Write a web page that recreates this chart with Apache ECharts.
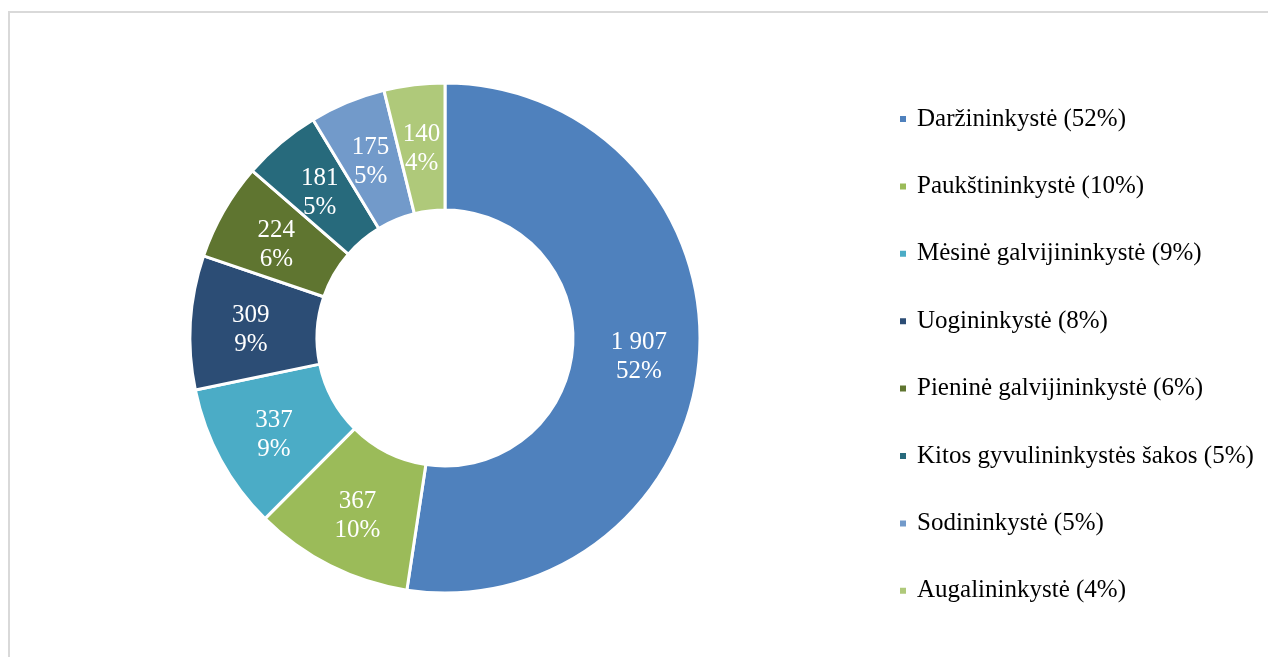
<!DOCTYPE html>
<html>
<head>
<meta charset="utf-8">
<script src="https://cdn.jsdelivr.net/npm/echarts@6/dist/echarts.min.js"></script>
<style>
  html, body { margin: 0; padding: 0; background: #fff; }
  #chart { width: 1268px; height: 657px; }
</style>
</head>
<body>
<div id="chart"></div>
<script>
const categories = [
  'Daržininkystė (52%)',
  'Paukštininkystė (10%)',
  'Mėsinė galvijininkystė (9%)',
  'Uogininkystė (8%)',
  'Pieninė galvijininkystė (6%)',
  'Kitos gyvulininkystės šakos (5%)',
  'Sodininkystė (5%)',
  'Augalininkystė (4%)'
];
const values = [1907, 367, 337, 309, 224, 181, 175, 140];
const pctLabels = ['52%', '10%', '9%', '9%', '6%', '5%', '5%', '4%'];
const colors = ['#4F81BD', '#9BBB59', '#4BACC6', '#2C4D75', '#5F7530', '#276A7C', '#729ACA', '#AFC97A'];

const FONT = '"Liberation Serif", "DejaVu Serif", serif';

function fmt(v) {
  return String(v).replace(/\B(?=(\d{3})+(?!\d))/g, ' ');
}

const chart = echarts.init(document.getElementById('chart'), null, { renderer: 'canvas' });
chart.setOption({
  animation: false,
  backgroundColor: '#ffffff',
  color: colors,
  graphic: [{
    type: 'rect',
    shape: { x: 9, y: 12, width: 1400, height: 800 },
    style: { fill: 'none', stroke: '#d9d9d9', lineWidth: 2 },
    silent: true,
    z: -10
  }],
  legend: {
    orient: 'vertical',
    left: 898,
    top: 105,
    padding: 0,
    itemWidth: 8,
    itemHeight: 8,
    itemGap: 39.4,
    icon: 'rect',
    data: categories,
    textStyle: {
      fontFamily: FONT,
      fontSize: 25,
      color: '#000000',
      lineHeight: 28,
      padding: [0, 0, 0, 5]
    }
  },
  series: [{
    type: 'pie',
    center: [445, 338],
    radius: [128, 255],
    startAngle: 90,
    clockwise: true,
    avoidLabelOverlap: false,
    itemStyle: { borderColor: '#ffffff', borderWidth: 3 },
    label: {
      show: true,
      position: 'inside',
      color: '#ffffff',
      fontFamily: FONT,
      fontSize: 25,
      lineHeight: 29,
      formatter: p => fmt(p.value) + '\n' + pctLabels[p.dataIndex]
    },
    labelLayout: { dy: 4 },
    labelLine: { show: false },
    emphasis: { disabled: true },
    data: categories.map((c, i) => ({ name: c, value: values[i] }))
  }]
});
</script>
</body>
</html>
